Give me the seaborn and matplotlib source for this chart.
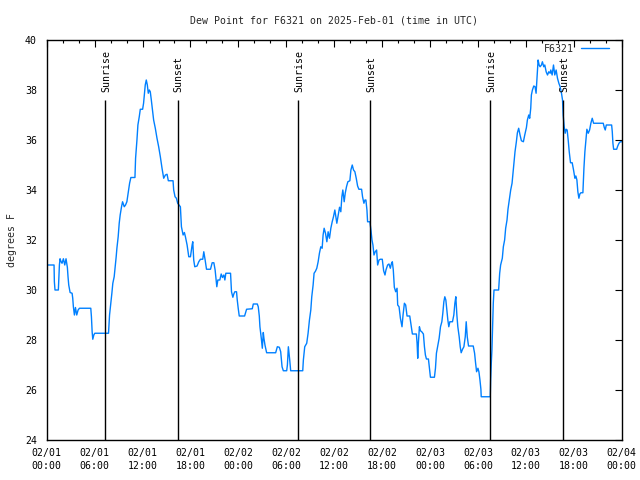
import matplotlib
matplotlib.use("Agg")
import matplotlib.pyplot as plt
import seaborn as sns
import pandas as pd

# ---- data (hours since 2025-02-01 00:00 UTC, dew point in degrees F) ----
hours = [
    0.00, 0.92, 0.96, 1.04, 1.46, 1.59, 1.67, 1.80, 1.92, 2.09, 2.26, 2.42, 2.59, 2.67, 2.76, 2.93,
    3.18, 3.26, 3.34, 3.47, 3.60, 3.76, 3.93, 4.10, 5.52, 5.60, 5.69, 5.77, 5.90, 6.02, 7.74,
    7.87, 8.03, 8.16, 8.28, 8.45, 8.58, 8.70, 8.79, 8.95, 9.08, 9.20, 9.37, 9.50, 9.71, 9.87,
    10.04, 10.25, 10.38, 10.54, 11.05, 11.13, 11.30, 11.42, 11.59, 11.72, 12.01, 12.13, 12.22,
    12.34, 12.47, 12.60, 12.72, 12.85, 12.97, 13.10, 13.27, 13.39, 13.60, 13.81, 14.02, 14.23,
    14.44, 14.65, 14.86, 15.07, 15.23, 15.82, 15.90, 16.07, 16.24, 16.40, 16.74,
    16.87, 17.08, 17.24, 17.37, 17.58, 17.79, 18.00, 18.21, 18.29, 18.41, 18.54, 18.83, 19.04,
    19.25, 19.54, 19.67, 19.84, 20.01, 20.51, 20.72, 20.93, 21.09, 21.22, 21.30, 21.43, 21.68,
    21.85, 22.01, 22.18, 22.31, 22.43, 23.02, 23.14, 23.31, 23.44, 23.56, 23.77, 23.86, 23.98,
    24.11, 24.78, 25.03, 25.74, 25.87, 26.37, 26.49, 26.62, 26.70, 26.87, 27.00, 27.12, 27.20,
    27.33, 27.54, 28.67, 28.88, 29.13, 29.30, 29.47, 29.63, 30.05, 30.14, 30.26, 30.43, 30.55,
    32.06,
    32.14, 32.31, 32.56, 32.73, 32.90, 33.07, 33.19, 33.36, 33.48, 33.65, 33.82, 33.99, 34.15,
    34.32, 34.49, 34.61, 34.74, 34.91, 35.08, 35.24, 35.41, 35.58, 35.75, 35.91, 36.08, 36.21,
    36.33, 36.50, 36.67, 36.83, 36.96, 37.08, 37.25, 37.38, 37.54, 37.71, 37.96, 38.09, 38.26,
    38.42, 38.59, 38.76, 38.93, 39.09, 39.43, 39.55, 39.72, 39.85, 39.97, 40.10, 40.18, 40.47,
    40.60, 40.73, 40.85, 40.98, 41.14, 41.31, 41.44, 41.61, 41.77, 42.02,
    42.19, 42.36, 42.48, 42.69, 42.86, 43.03, 43.15, 43.28, 43.40, 43.53, 43.70, 43.87, 43.95,
    44.12, 44.29, 44.49, 44.62, 44.79, 44.95, 45.12, 45.46, 45.62, 45.79, 46.29, 46.38, 46.46,
    46.54, 46.67, 46.80, 46.96, 47.17, 47.30, 47.42, 47.55, 47.80, 47.93, 48.05, 48.55, 48.68,
    48.80, 48.97, 49.14, 49.31, 49.48, 49.60, 49.73, 49.85, 49.98, 50.10, 50.23, 50.35, 50.48,
    50.81, 50.98, 51.11, 51.23, 51.36, 51.48, 51.65, 51.78, 51.90, 52.07, 52.24, 52.41, 52.53,
    52.66, 52.82, 53.41, 53.58, 53.70, 53.83, 54.00, 54.12, 54.25, 54.37, 54.41, 55.54,
    55.59, 55.67, 55.75, 55.84, 55.92, 56.01, 56.59, 56.72, 56.84, 57.05, 57.18, 57.34, 57.47,
    57.64, 57.76, 57.93, 58.10, 58.27, 58.39, 58.52, 58.64, 58.81, 58.94, 59.10, 59.27, 59.44,
    59.69, 59.86, 60.07, 60.19, 60.36, 60.48, 60.61, 60.69, 60.82, 60.99, 61.15, 61.28, 61.40,
    61.53, 61.66, 61.78, 61.95, 62.07, 62.24, 62.37, 62.54, 62.71, 62.87, 63.04, 63.12, 63.29,
    63.46, 63.62, 63.79, 63.96, 64.13, 64.29, 64.46, 64.59,
    64.67, 64.80, 64.92, 65.05, 65.17, 65.30, 65.43, 65.59, 65.80, 65.97, 66.14, 66.26, 66.39,
    66.51, 66.64, 66.76, 66.89, 67.14, 67.27, 67.39, 67.52, 67.64, 67.81, 67.98, 68.14, 68.31,
    68.48, 69.69, 69.82, 69.94, 70.07, 70.74, 70.82, 70.90, 70.99, 71.37, 71.49, 71.66, 71.83,
    72.00,
]
dewpoint = [
    31.0, 31.0, 30.33, 30.0, 30.0, 31.0, 31.25, 31.13, 31.07, 31.25, 31.0, 31.25, 30.9, 30.53, 30.2, 29.9,
    29.87, 29.67, 29.33, 29.0, 29.3, 29.0, 29.2, 29.27, 29.27, 28.93, 28.33, 28.03, 28.2, 28.27, 28.27,
    29.0, 29.47, 29.87, 30.27, 30.53, 30.93, 31.33, 31.67, 32.13, 32.67, 33.0, 33.33, 33.53, 33.33, 33.4,
    33.53, 34.0, 34.27, 34.5, 34.5, 35.27, 36.0, 36.6, 36.93, 37.23, 37.23, 37.47, 37.8,
    38.2, 38.4, 38.2, 37.87, 38.0, 37.93, 37.6, 37.13, 36.8, 36.47, 36.07, 35.73, 35.33,
    34.87, 34.47, 34.6, 34.63, 34.37, 34.37, 34.0, 33.73, 33.67, 33.47, 33.33,
    32.53, 32.2, 32.3, 32.13, 31.8, 31.33, 31.33, 31.8, 31.93, 31.2, 30.93, 30.96, 31.13,
    31.23, 31.23, 31.53, 31.2, 30.83, 30.83, 31.09, 31.09, 30.8, 30.4, 30.13, 30.4, 30.4,
    30.64, 30.5, 30.6, 30.4, 30.67, 30.67, 29.93, 29.71, 29.85, 29.93, 29.93, 29.6, 29.27,
    28.96, 28.96, 29.23, 29.25, 29.44, 29.44, 29.33, 28.96, 28.53, 28.07, 27.67, 28.3, 28.07,
    27.8, 27.49, 27.49, 27.73, 27.71, 27.53, 26.93, 26.77, 26.77, 27.0, 27.73, 27.2, 26.77,
    26.77,
    27.2, 27.73, 27.87, 28.27, 28.8, 29.2, 29.73, 30.2, 30.67, 30.75, 30.87, 31.13, 31.47,
    31.73, 31.67, 32.2, 32.47, 32.27, 31.93, 32.33, 32.07, 32.47, 32.73, 32.93, 33.2, 32.93,
    32.67, 33.0, 33.31, 33.13, 33.73, 34.0, 33.53, 33.87, 34.13, 34.33, 34.37, 34.8, 35.0,
    34.8, 34.73, 34.47, 34.16, 34.03, 34.03, 33.73, 33.47, 33.6, 33.6, 33.2, 32.73, 32.73,
    32.4, 32.0, 31.8, 31.4, 31.53, 31.6, 31.0, 31.2, 31.23, 31.23,
    30.77, 30.6, 30.8, 31.0, 31.04, 30.87, 31.04, 31.13, 30.8, 30.11, 29.93, 30.07, 29.4,
    29.33, 28.87, 28.53, 29.0, 29.47, 29.4, 28.96, 28.96, 28.6, 28.24, 28.24, 27.87, 27.27,
    27.87, 28.53, 28.37, 28.33, 28.24, 27.73, 27.4, 27.24, 27.24, 26.87, 26.51, 26.51, 26.87,
    27.47, 27.76, 28.07, 28.53, 28.73, 29.07, 29.53, 29.73, 29.6, 29.2, 28.8, 28.53, 28.73,
    28.73, 29.0, 29.47, 29.73, 29.0, 28.53, 28.13, 27.73, 27.49, 27.63, 27.73, 28.13, 28.73,
    28.13, 27.76, 27.76, 27.47, 27.09, 26.73, 26.87, 26.73, 26.4, 26.03, 25.73, 25.73,
    26.4, 27.07, 27.6, 28.67, 29.47, 30.0, 30.0, 30.67, 31.0, 31.27, 31.73, 32.0, 32.47,
    32.8, 33.23, 33.6, 34.0, 34.27, 34.67, 35.07, 35.53, 35.93, 36.29, 36.47, 36.2, 35.97,
    35.93, 36.2, 36.5, 36.8, 37.0, 36.87, 37.27, 37.8, 38.0, 38.16, 38.13, 37.87, 38.53,
    39.2, 39.0, 38.93, 39.0, 39.13, 38.93, 39.0, 38.73, 38.6, 38.73, 38.67, 38.8, 38.6,
    39.0, 38.6, 38.8, 38.47, 38.27, 38.13, 37.87, 37.6,
    37.0, 36.53, 36.27, 36.43, 36.4, 36.0, 35.53, 35.09, 35.09, 34.8, 34.47, 34.56, 34.4,
    33.93, 33.67, 33.84, 33.89, 33.89, 34.87, 35.53, 36.0, 36.43, 36.27, 36.4, 36.67, 36.87,
    36.67, 36.67, 36.5, 36.4, 36.6, 36.6, 36.33, 35.87, 35.63, 35.63, 35.75, 35.87, 35.93,
    35.93,
]

event_hours = [7.36, 16.40, 31.47, 40.52, 55.47, 64.63]
event_labels = ["Sunrise", "Sunset", "Sunrise", "Sunset", "Sunrise", "Sunset"]

xtick_hours = [0, 6, 12, 18, 24, 30, 36, 42, 48, 54, 60, 66, 72]
xtick_labels = ["02/01\n00:00", "02/01\n06:00", "02/01\n12:00", "02/01\n18:00",
                "02/02\n00:00", "02/02\n06:00", "02/02\n12:00", "02/02\n18:00",
                "02/03\n00:00", "02/03\n06:00", "02/03\n12:00", "02/03\n18:00",
                "02/04\n00:00"]
xminor_hours = list(range(0, 73, 2))
ytick_values = [24, 26, 28, 30, 32, 34, 36, 38, 40]

series_name = "F6321"
title = "Dew Point for F6321 on 2025-Feb-01 (time in UTC)"
ylabel = "degrees F"

# ---- style ----
sns.set_style("white")
plt.rcParams['font.family'] = ['DejaVu Sans Mono']
FS = 7.1
LINE_TOP = 37.6

fig = plt.figure(figsize=(6.4, 4.8), dpi=100)
ax = fig.add_axes([46.7 / 640, 40 / 480, 575 / 640, 400 / 480])

df = pd.DataFrame({"hour": hours, "dew": dewpoint})
sns.lineplot(data=df, x="hour", y="dew", ax=ax, color="#0080ff", linewidth=1.0,
             estimator=None, sort=False, label=series_name)

for h, lab in zip(event_hours, event_labels):
    ax.vlines(h, 24, LINE_TOP, color="black", linewidth=1.0)
    ax.text(h + 0.15, LINE_TOP + 0.3, lab, rotation=90, ha="center", va="bottom",
            fontsize=FS, color="black")

ax.set_xlim(0, 72)
ax.set_ylim(24, 40)
ax.set_xticks(xtick_hours)
ax.set_xticklabels(xtick_labels, fontsize=FS, linespacing=1.35)
ax.set_xticks(xminor_hours, minor=True)
ax.set_yticks(ytick_values)
ax.set_yticklabels([str(v) for v in ytick_values], fontsize=FS)
ax.tick_params(which="major", direction="in", top=True, right=True, length=5,
               width=0.8, color="black", labelcolor="black")
ax.tick_params(axis="x", which="major", pad=6)
ax.tick_params(axis="y", which="major", pad=7)
ax.tick_params(axis="x", which="minor", direction="in", top=True, length=2.5,
               width=0.8, color="black")
for s in ax.spines.values():
    s.set_color("black")
    s.set_linewidth(1.0)

ax.set_xlabel("")
ax.set_ylabel(ylabel, fontsize=FS, labelpad=6)
ax.set_title(title, fontsize=FS, pad=12)

ax.legend(loc="upper right", bbox_to_anchor=(0.9784, 0.991), frameon=False,
          markerfirst=False, handlelength=2.85, handletextpad=0.75,
          borderaxespad=0, borderpad=0, fontsize=FS)

fig.savefig("out.png", dpi=100)
